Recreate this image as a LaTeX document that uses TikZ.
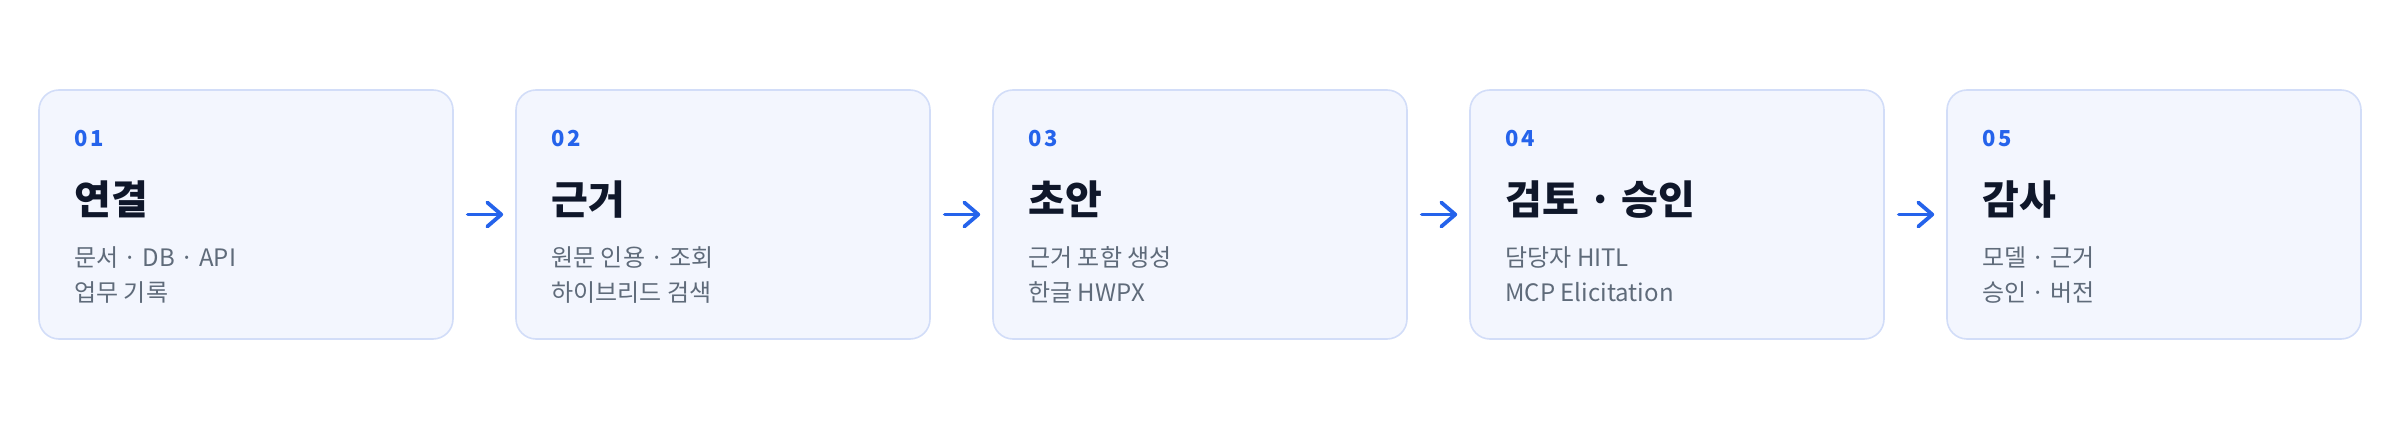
\documentclass[tikz,border=0pt]{standalone}
\usepackage{fontspec}
\setmainfont{Noto Sans CJK KR}
\usepackage{xcolor}
\usepackage{tikz}
\usetikzlibrary{positioning, arrows.meta}

\definecolor{cardfill}{HTML}{F3F6FE}
\definecolor{cardline}{HTML}{D2DDF8}
\definecolor{stepblue}{HTML}{2563EB}
\definecolor{titleink}{HTML}{0F172A}
\definecolor{noteink}{HTML}{5F6B7A}

\begin{document}
\begin{tikzpicture}[
        x=1pt, y=-1pt,
        card/.style={rectangle, rounded corners=20pt, draw=cardline, line width=1.6pt, fill=cardfill, minimum width=414pt, minimum height=249pt, inner sep=0pt},
        stepno/.style={anchor=base west, inner sep=0pt, text=stepblue, font=\fontsize{22}{26}\selectfont\bfseries\addfontfeature{LetterSpace=12}},
        title/.style={anchor=base west, inner sep=0pt, text=titleink, font=\fontsize{40}{48}\selectfont\bfseries},
        note/.style={anchor=base west, inner sep=0pt, align=left, text=noteink, font=\fontsize{24}{35}\selectfont},
        flow/.style={-{Straight Barb[length=14pt, width=24pt, round]}, draw=stepblue, line width=3.8pt, line cap=round}
    ]
        \useasboundingbox (0,0) rectangle (2400,430);

        \node[card] (connect) at (246,214.5) {};
        \node[stepno] (connectno) at ([shift={(36,57)}]connect.north west) {01};
        \node[title] (connecttitle) at ([shift={(36,125)}]connect.north west) {연결};
        % base of a two-line note is its last line
        \node[note] (connectnote) at ([shift={(36,212)}]connect.north west) {문서 · DB · API\\업무 기록};

        \node[card, right=61.4pt of connect] (ground) {};
        \node[stepno] (groundno) at ([shift={(36,57)}]ground.north west) {02};
        \node[title] (groundtitle) at ([shift={(36,125)}]ground.north west) {근거};
        \node[note] (groundnote) at ([shift={(36,212)}]ground.north west) {원문 인용 · 조회\\하이브리드 검색};

        \node[card, right=61.4pt of ground] (draft) {};
        \node[stepno] (draftno) at ([shift={(36,57)}]draft.north west) {03};
        \node[title] (drafttitle) at ([shift={(36,125)}]draft.north west) {초안};
        \node[note] (draftnote) at ([shift={(36,212)}]draft.north west) {근거 포함 생성\\한글 HWPX};

        \node[card, right=61.4pt of draft] (review) {};
        \node[stepno] (reviewno) at ([shift={(36,57)}]review.north west) {04};
        \node[title] (reviewtitle) at ([shift={(36,125)}]review.north west) {검토 · 승인};
        \node[note] (reviewnote) at ([shift={(36,212)}]review.north west) {담당자 HITL\\MCP Elicitation};

        \node[card, right=61.4pt of review] (audit) {};
        \node[stepno] (auditno) at ([shift={(36,57)}]audit.north west) {05};
        \node[title] (audittitle) at ([shift={(36,125)}]audit.north west) {감사};
        \node[note] (auditnote) at ([shift={(36,212)}]audit.north west) {모델 · 근거\\승인 · 버전};

        \draw[flow] ([xshift=14pt]connect.east) -- ([xshift=-12pt]ground.west);
        \draw[flow] ([xshift=14pt]ground.east) -- ([xshift=-12pt]draft.west);
        \draw[flow] ([xshift=14pt]draft.east) -- ([xshift=-12pt]review.west);
        \draw[flow] ([xshift=14pt]review.east) -- ([xshift=-12pt]audit.west);
    \end{tikzpicture}
\end{document}
